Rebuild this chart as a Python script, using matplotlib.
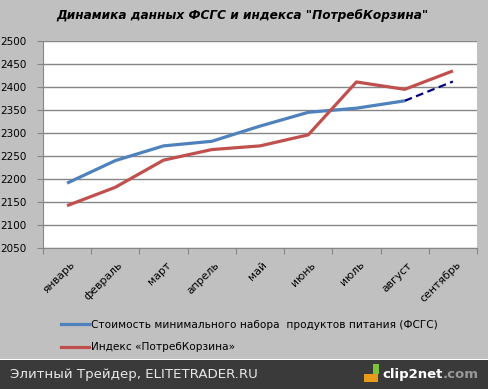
import matplotlib
matplotlib.use("Agg")
import matplotlib.pyplot as plt
from matplotlib.patches import Rectangle
from matplotlib.lines import Line2D
import numpy as np

# ==========================
# ДАННЫЕ
# ==========================

months = ["январь", "февраль", "март", "апрель", "май",
          "июнь", "июль", "август", "сентябрь"]

fsgs = [2191, 2240, 2272, 2282, 2315, 2345, 2354, 2370, np.nan]
potreb = [2142, 2182, 2241, 2264, 2272, 2296, 2411, 2395, 2435]
forecast = [np.nan] * 7 + [2370, 2412]

yticks = list(range(2050, 2501, 50))

label_fsgs = "Стоимость минимального набора  продуктов питания (ФСГС)"
label_potreb = "Индекс «ПотребКорзина»"

# ==========================
# ФИГУРА
# ==========================

bg = "#c0c0c0"
fig = plt.figure(figsize=(4.88, 3.89), dpi=100, facecolor=bg)
ax = fig.add_axes([0.088, 0.3625, 0.8895, 0.532])
ax.set_facecolor("white")

x = np.arange(len(months))
ax.plot(x, fsgs, color="#4f81bd", lw=2.3, solid_capstyle="butt")
ax.plot(x, potreb, color="#c0504d", lw=2.3, solid_capstyle="butt")
ax.plot(x, forecast, color="#000080", lw=1.6, ls=(0, (3.5, 2)))

ax.set_xlim(-0.5, len(months) - 0.5)
ax.set_ylim(2050, 2500)
ax.set_yticks(yticks)
ax.set_yticklabels([str(v) for v in yticks], fontsize=7.5, color="black")
ax.yaxis.grid(True, color="#868686", lw=1)
ax.set_axisbelow(True)
ax.tick_params(axis="y", length=4, color="#868686", pad=8)

ax.set_xticks(np.arange(len(months) + 1) - 0.5)
ax.set_xticklabels([])
ax.tick_params(axis="x", length=4, color="#868686")
for i, m in enumerate(months):
    ax.text(i + 0.05, 2050 - 26, m, rotation=45, rotation_mode="anchor",
            ha="right", va="top", fontsize=7.8, transform=ax.transData)

for s in ["top", "right"]:
    ax.spines[s].set_visible(False)
for s in ["left", "bottom"]:
    ax.spines[s].set_color("#868686")

# ==========================
# ЗАГОЛОВОК И ЛЕГЕНДА
# ==========================

fig.text(0.496, 0.961, 'Динамика данных ФСГС и индекса "ПотребКорзина"',
         ha="center", va="center", fontsize=8.7, fontweight="bold",
         fontstyle="italic")

handles = [Line2D([], [], color="#4f81bd", lw=2.3),
           Line2D([], [], color="#c0504d", lw=2.3)]
fig.legend(handles, [label_fsgs, label_potreb], loc="upper left",
           bbox_to_anchor=(0.117, 0.188), frameon=False, fontsize=7.6,
           handlelength=2.65, handletextpad=0.2, labelspacing=1.15,
           borderaxespad=0)

# ==========================
# НИЖНЯЯ ПОЛОСА
# ==========================

fig.patches.append(Rectangle((0, 0), 1, 29 / 389, transform=fig.transFigure,
                             facecolor="#3a3a3a", edgecolor="none"))
fig.patches.append(Rectangle((0, 29 / 389), 1, 1.5 / 389,
                             transform=fig.transFigure,
                             facecolor="white", edgecolor="none"))
fig.text(0.02, 0.036, "Элитный Трейдер, ELITETRADER.RU", color="#e8e8e8",
         fontsize=9.6, va="center", ha="left")
fig.text(443 / 488, 0.038, "clip2net", color="white", fontsize=9.5,
         fontweight="bold", va="center", ha="right")
fig.text(479 / 488, 0.038, ".com", color="#9a9a9a", fontsize=9.5,
         fontweight="bold", va="center", ha="right")
fig.patches.append(Rectangle((364 / 488, 0.018), 14 / 488, 0.02,
                             transform=fig.transFigure,
                             facecolor="#e89a1a", edgecolor="none"))
fig.patches.append(Rectangle((373 / 488, 0.038), 6 / 488, 0.025,
                             transform=fig.transFigure,
                             facecolor="#7cc23a", edgecolor="none"))

fig.savefig("out.png", dpi=100, facecolor=bg)
